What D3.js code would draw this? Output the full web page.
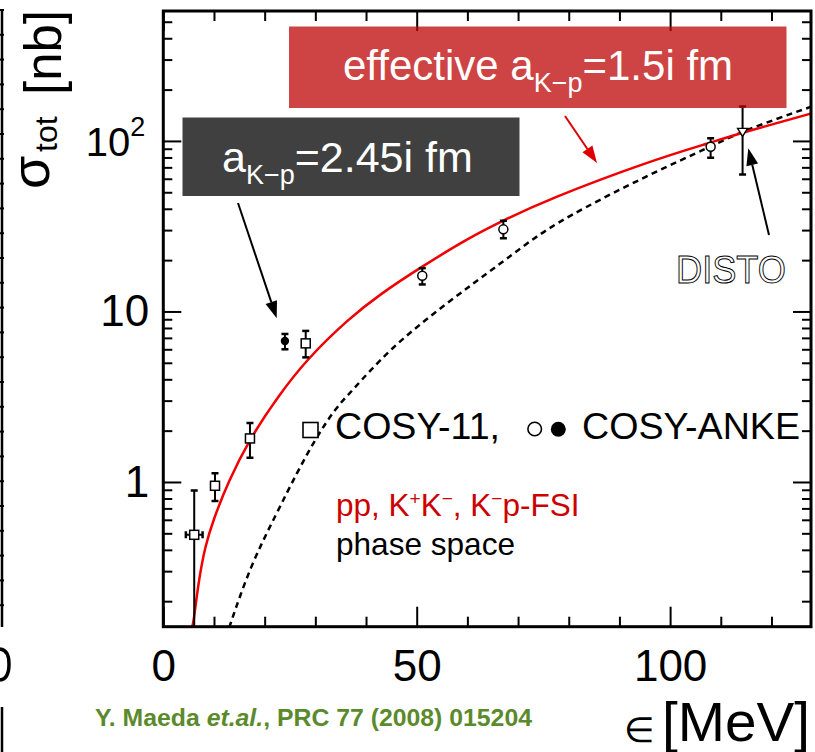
<!DOCTYPE html>
<html>
<head>
<meta charset="utf-8">
<script src="https://cdn.jsdelivr.net/npm/d3@7"></script>
<style>
  html, body { margin: 0; padding: 0; background: #fff; }
  svg { display: block; }
</style>
</head>
<body>
<svg id="chart" width="815" height="752"></svg>
<script>
// ---------------- data ----------------
// COSY-11 (open squares): excess energy [MeV], cross section [nb], error limits
const cosy11E      = [6.1, 10.2, 17.1, 28.1];
const cosy11Sigma  = [0.49, 0.95, 1.80, 6.5];
const cosy11Hi     = [0.89, 1.125, 2.22, 7.69];
const cosy11Lo     = [0.05, 0.774, 1.388, 5.38];
const cosy11EErr   = [1.65, 0, 0, 0];

// COSY-ANKE open circles
const ankeOpenE     = [51.1, 67.1, 108.0];
const ankeOpenSigma = [16.2, 30.3, 92.4];
const ankeOpenHi    = [17.95, 34.0, 103.6];
const ankeOpenLo    = [14.4, 26.9, 79.6];

// COSY-ANKE filled circle
const ankeFullE     = [24.0];
const ankeFullSigma = [6.71];
const ankeFullHi    = [7.38];
const ankeFullLo    = [6.0];

// DISTO (open triangle)
const distoE     = [114.3];
const distoSigma = [113];
const distoHi    = [159];
const distoLo    = [63.6];

// pp + K+K- + K-p FSI model (red solid)
const fsiE     = [5.6, 5.92, 6.9, 8.22, 9.86, 12.82, 17.1, 22.37, 28.29, 36.83, 42.74, 50.97, 60.49, 67.06, 75.62, 96.0, 108.0, 114.3, 127.9];
const fsiSigma = [0.14, 0.145, 0.255, 0.418, 0.599, 1.004, 1.80, 3.10, 5.25, 9.2, 12.6, 18.3, 27.2, 34.1, 45.1, 76.3, 97.8, 112, 145];

// phase space (black dashed)
const psE     = [13.0, 17.1, 22.37, 26.31, 30.26, 34.2, 36.8, 44.71, 55.9, 67.06, 74.3, 82.19, 96.0, 108.0, 114.3, 127.9];
const psSigma = [0.14, 0.319, 0.655, 1.125, 1.844, 2.76, 3.31, 6.08, 11.2, 19.6, 28.7, 39.4, 63.8, 92.6, 114.5, 159];

// axis ticks
const xMajorTicks = [0, 50, 100];
const xMinorTicks = [10, 20, 30, 40, 60, 70, 80, 90, 110, 120];
const xTickLabels = ["0", "50", "100"];
const yMajorTicks = [1, 10, 100];
const yMinorTicks = [0.2,0.3,0.4,0.5,0.6,0.7,0.8,0.9, 2,3,4,5,6,7,8,9, 20,30,40,50,60,70,80,90, 200,300,400,500];
const yTickLabels = ["1", "10", "10|2"];

// ---------------- layout ----------------
const svg = d3.select("#chart");
const FONT = "'Liberation Sans', Arial, Helvetica, sans-serif";
const plot = { left: 163.3, right: 811, top: 11, bottom: 626.7 };

const x = d3.scaleLinear().domain([0, 127.8]).range([plot.left, plot.right]);
const y = d3.scaleLog().domain([0.1417, 578]).range([plot.bottom, plot.top]);

svg.append("defs").append("clipPath").attr("id", "plotClip")
  .append("rect")
  .attr("x", plot.left).attr("y", plot.top)
  .attr("width", plot.right - plot.left).attr("height", plot.bottom - plot.top);

// neighbouring panel edge on the far left
const edge = svg.append("g").attr("stroke", "#000");
edge.append("line").attr("x1", 2).attr("x2", 2).attr("y1", 10).attr("y2", 627).attr("stroke-width", 2.5);
edge.selectAll("line.t").data(d3.range(10, 627, 24.8)).join("line")
  .attr("x1", 0).attr("x2", 4).attr("y1", d => d).attr("y2", d => d).attr("stroke-width", 2);
edge.append("line").attr("x1", 2).attr("x2", 2).attr("y1", 707).attr("y2", 752).attr("stroke-width", 2.5);
edge.append("path").attr("d", "M0,649 Q9,650 9,664 Q9,679 0,680")
  .attr("fill", "none").attr("stroke-width", 3.5);

// ---------------- axes ----------------
function styleAxis(g) {
  g.select(".domain").remove();
  g.selectAll(".tick line").attr("stroke", "#000").attr("stroke-width", 2);
}
function tickAxis(axisFn, scale, values, size, transform) {
  svg.append("g").attr("transform", transform)
    .call(axisFn(scale).tickValues(values).tickSize(-size).tickSizeOuter(0).tickFormat(""))
    .call(styleAxis);
}
tickAxis(d3.axisBottom, x, xMinorTicks, 10, `translate(0,${plot.bottom})`);
tickAxis(d3.axisBottom, x, xMajorTicks, 20, `translate(0,${plot.bottom})`);
tickAxis(d3.axisTop, x, xMinorTicks, 10, `translate(0,${plot.top})`);
tickAxis(d3.axisTop, x, xMajorTicks, 20, `translate(0,${plot.top})`);
tickAxis(d3.axisLeft, y, yMinorTicks, 9, `translate(${plot.left},0)`);
tickAxis(d3.axisLeft, y, yMajorTicks, 18, `translate(${plot.left},0)`);
tickAxis(d3.axisRight, y, yMinorTicks, 9, `translate(${plot.right},0)`);
tickAxis(d3.axisRight, y, yMajorTicks, 18, `translate(${plot.right},0)`);

// tick labels
const xLab = svg.append("g").attr("transform", `translate(0,${plot.bottom})`)
  .call(d3.axisBottom(x).tickValues(xMajorTicks).tickSize(0).tickPadding(23)
        .tickFormat((d, i) => xTickLabels[i]));
xLab.select(".domain").remove();
xLab.selectAll("text").attr("font-family", FONT).attr("font-size", 44).attr("fill", "#000");

const yLab = svg.append("g").attr("transform", `translate(${plot.left},0)`)
  .call(d3.axisLeft(y).tickValues(yMajorTicks).tickSize(0).tickPadding(14)
        .tickFormat((d, i) => yTickLabels[i]));
yLab.select(".domain").remove();
yLab.selectAll("text").attr("font-family", FONT).attr("font-size", 44).attr("fill", "#000")
  .each(function (d, i) {
    const lbl = yTickLabels[i];
    if (lbl.includes("|")) {
      const [base, exp] = lbl.split("|");
      const t = d3.select(this).text(null).attr("x", -18).attr("dy", "0.36em").attr("font-size", 40);
      t.append("tspan").text(base);
      t.append("tspan").attr("font-size", 27).attr("dy", "-0.75em").text(exp);
    }
  });

// ---------------- model curves ----------------
const curves = svg.append("g").attr("clip-path", "url(#plotClip)");
const line = d3.line().x(d => x(d[0])).y(d => y(d[1])).curve(d3.curveBasis);

curves.append("path").datum(d3.zip(psE, psSigma))
  .attr("d", line).attr("fill", "none").attr("stroke", "#000")
  .attr("stroke-width", 2.5).attr("stroke-dasharray", "6,4.5");
curves.append("path").datum(d3.zip(fsiE, fsiSigma))
  .attr("d", line).attr("fill", "none").attr("stroke", "#f00000").attr("stroke-width", 2.5);

// ---------------- data points ----------------
const pts = svg.append("g").attr("clip-path", "url(#plotClip)");
function errorBars(E, S, Hi, Lo, EErr) {
  const rows = E.map((e, i) => ({ e, s: S[i], hi: Hi[i], lo: Lo[i], ee: EErr ? EErr[i] : 0 }));
  const g = pts.append("g").attr("stroke", "#000").attr("stroke-width", 2);
  rows.forEach(r => {
    g.append("line").attr("x1", x(r.e)).attr("x2", x(r.e)).attr("y1", y(r.hi)).attr("y2", y(r.lo));
    [r.hi, r.lo].forEach(v => g.append("line").attr("stroke-width", 2.5)
      .attr("x1", x(r.e) - 3.5).attr("x2", x(r.e) + 3.5).attr("y1", y(v)).attr("y2", y(v)));
    if (r.ee > 0) {
      g.append("line").attr("x1", x(r.e - r.ee)).attr("x2", x(r.e + r.ee)).attr("y1", y(r.s)).attr("y2", y(r.s));
      [r.e - r.ee, r.e + r.ee].forEach(v => g.append("line").attr("stroke-width", 2.5)
        .attr("x1", x(v)).attr("x2", x(v)).attr("y1", y(r.s) - 3.5).attr("y2", y(r.s) + 3.5));
    }
  });
  return rows;
}
const c11 = errorBars(cosy11E, cosy11Sigma, cosy11Hi, cosy11Lo, cosy11EErr);
const aOpen = errorBars(ankeOpenE, ankeOpenSigma, ankeOpenHi, ankeOpenLo);
const aFull = errorBars(ankeFullE, ankeFullSigma, ankeFullHi, ankeFullLo);
const dst = errorBars(distoE, distoSigma, distoHi, distoLo);

pts.selectAll("rect.c11").data(c11).join("rect")
  .attr("x", d => x(d.e) - 4.5).attr("y", d => y(d.s) - 4.5).attr("width", 9).attr("height", 9)
  .attr("fill", "#fff").attr("stroke", "#000").attr("stroke-width", 1.5);
pts.selectAll("circle.ao").data(aOpen).join("circle")
  .attr("cx", d => x(d.e)).attr("cy", d => y(d.s)).attr("r", 4.5)
  .attr("fill", "#fff").attr("stroke", "#000").attr("stroke-width", 1.5);
pts.selectAll("circle.af").data(aFull).join("circle")
  .attr("cx", d => x(d.e)).attr("cy", d => y(d.s)).attr("r", 4.2).attr("fill", "#000");
pts.selectAll("path.ds").data(dst).join("path")
  .attr("d", d => `M${x(d.e) - 5},${y(d.s) - 3.5}L${x(d.e) + 5},${y(d.s) - 3.5}L${x(d.e)},${y(d.s) + 4.5}Z`)
  .attr("fill", "#fff").attr("stroke", "#000").attr("stroke-width", 1.4);

// ---------------- frame ----------------
svg.append("rect").attr("x", plot.left).attr("y", plot.top)
  .attr("width", plot.right - plot.left).attr("height", plot.bottom - plot.top)
  .attr("fill", "none").attr("stroke", "#000").attr("stroke-width", 3);

// ---------------- legend ----------------
const leg = svg.append("g").attr("font-family", FONT);
leg.append("rect").attr("x", 303).attr("y", 422.5).attr("width", 15).attr("height", 15)
  .attr("fill", "#fff").attr("stroke", "#000").attr("stroke-width", 1.6);
leg.append("text").attr("x", 335).attr("y", 439).attr("font-size", 36.5).attr("fill", "#000")
  .attr("textLength", 165).attr("lengthAdjust", "spacingAndGlyphs").text("COSY-11,");
leg.append("circle").attr("cx", 534.7).attr("cy", 429).attr("r", 6.8)
  .attr("fill", "#fff").attr("stroke", "#000").attr("stroke-width", 1.6);
leg.append("circle").attr("cx", 558.3).attr("cy", 429.3).attr("r", 7.5).attr("fill", "#000");
leg.append("text").attr("x", 582).attr("y", 439).attr("font-size", 36.5).attr("fill", "#000")
  .attr("textLength", 218).attr("lengthAdjust", "spacingAndGlyphs").text("COSY-ANKE");

const fsiLabel = leg.append("text").attr("x", 336).attr("y", 516).attr("font-size", 31.5).attr("fill", "#cc0000");
fsiLabel.append("tspan").text("pp, K");
fsiLabel.append("tspan").attr("font-size", 19).attr("dy", -11).text("+");
fsiLabel.append("tspan").attr("dy", 11).text("K");
fsiLabel.append("tspan").attr("font-size", 19).attr("dy", -11).text("\u2212");
fsiLabel.append("tspan").attr("dy", 11).text(", K");
fsiLabel.append("tspan").attr("font-size", 19).attr("dy", -11).text("\u2212");
fsiLabel.append("tspan").attr("dy", 11).text("p-FSI");
leg.append("text").attr("x", 336).attr("y", 555).attr("font-size", 31.5).attr("fill", "#000")
  .attr("textLength", 179).attr("lengthAdjust", "spacingAndGlyphs").text("phase space");

// ---------------- axis titles ----------------
const yTitle = svg.append("g").attr("font-family", FONT).attr("fill", "#000");
yTitle.append("text").attr("transform", "translate(49,189) rotate(-90)").attr("font-size", 54).text("\u03c3");
yTitle.append("text").attr("transform", "translate(57,152) rotate(-90)").attr("font-size", 32).text("tot");
yTitle.append("text").attr("transform", "translate(61,95) rotate(-90)").attr("font-size", 52)
  .attr("textLength", 85).attr("lengthAdjust", "spacingAndGlyphs").text("[nb]");

const xTitle = svg.append("g").attr("font-family", FONT).attr("fill", "#000");
xTitle.append("text").attr("x", 624).attr("y", 742).attr("font-size", 35).text("\u2208");
xTitle.append("text").attr("x", 662).attr("y", 741).attr("font-size", 56)
  .attr("textLength", 148).attr("lengthAdjust", "spacingAndGlyphs").text("[MeV]");

const ref = svg.append("text").attr("x", 95).attr("y", 726).attr("font-family", FONT)
  .attr("font-size", 24).attr("font-weight", "bold").attr("fill", "#5b8a2c")
  .attr("textLength", 437).attr("lengthAdjust", "spacingAndGlyphs");
ref.append("tspan").text("Y. Maeda ");
ref.append("tspan").attr("font-style", "italic").text("et.al.");
ref.append("tspan").text(", PRC 77 (2008) 015204");

// ---------------- annotations ----------------
function arrow(g, x1, y1, x2, y2, color, len, half) {
  const a = Math.atan2(y2 - y1, x2 - x1);
  const bx = x2 - len * Math.cos(a), by = y2 - len * Math.sin(a);
  g.append("line").attr("x1", x1).attr("y1", y1).attr("x2", bx).attr("y2", by)
    .attr("stroke", color).attr("stroke-width", 2);
  const px = -Math.sin(a) * half, py = Math.cos(a) * half;
  g.append("path").attr("d", `M${x2},${y2}L${bx + px},${by + py}L${bx - px},${by - py}Z`).attr("fill", color);
}
const ann = svg.append("g");
arrow(ann, 769, 235, 748.3, 148.3, "#000", 17, 6);

// dark label box
ann.append("rect").attr("x", 182.5).attr("y", 117.5).attr("width", 337).attr("height", 78.5).attr("fill", "#404040");
const gl = ann.append("text").attr("x", 222).attr("y", 172).attr("font-family", FONT)
  .attr("font-size", 43).attr("fill", "#fff");
gl.append("tspan").text("a");
gl.append("tspan").attr("font-size", 27).attr("dy", 12).text("K\u2212p");
gl.append("tspan").attr("dy", -12).text("=2.45i fm");
arrow(ann, 238, 203, 276.7, 318.3, "#000", 17, 6);

// red label box (translucent)
ann.append("rect").attr("x", 289).attr("y", 26.5).attr("width", 497.5).attr("height", 81.5)
  .attr("fill", "rgb(190,6,6)").attr("fill-opacity", 0.75);
const rl = ann.append("text").attr("x", 343).attr("y", 80).attr("font-family", FONT)
  .attr("font-size", 42).attr("fill", "#fff");
rl.append("tspan").text("effective a");
rl.append("tspan").attr("font-size", 27).attr("dy", 12).text("K\u2212p");
rl.append("tspan").attr("dy", -12).text("=1.5i fm");
arrow(ann, 565, 116, 597, 163, "#dd0000", 17, 6);

// DISTO outlined label
ann.append("text").attr("x", 676).attr("y", 283).attr("font-family", FONT)
  .attr("font-size", 39).attr("fill", "#fff").attr("stroke", "#000").attr("stroke-width", 1)
  .attr("textLength", 110).attr("lengthAdjust", "spacingAndGlyphs").text("DISTO");
</script>
</body>
</html>
